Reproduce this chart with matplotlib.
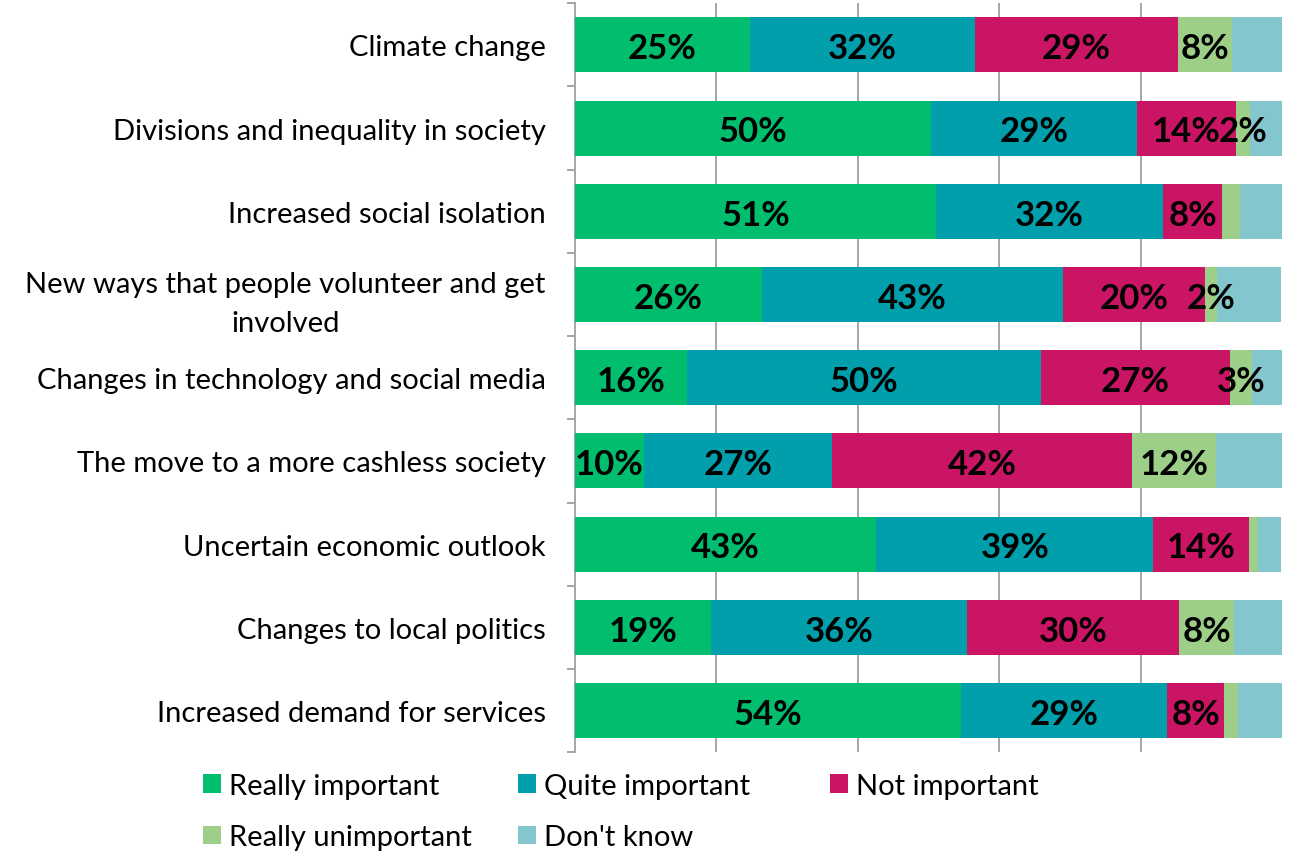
import matplotlib
matplotlib.use("Agg")
import matplotlib.pyplot as plt
import numpy as np

categories = [
    "Climate change",
    "Divisions and inequality in society",
    "Increased social isolation",
    "New ways that people volunteer and get\ninvolved",
    "Changes in technology and social media",
    "The move to a more cashless society",
    "Uncertain economic outlook",
    "Changes to local politics",
    "Increased demand for services",
]
series_names = ["Really important", "Quite important", "Not important",
                "Really unimportant", "Don't know"]

really_important = [24.7, 50.3, 51.1, 26.4, 15.9, 9.7, 42.6, 19.3, 54.6]
quite_important = [31.9, 29.2, 32.1, 42.6, 50.0, 26.7, 39.2, 36.1, 29.2]
not_important = [28.7, 14.0, 8.3, 20.1, 26.8, 42.4, 13.6, 30.1, 8.0]
really_unimportant = [7.7, 2.0, 2.5, 1.7, 3.1, 11.9, 1.2, 7.7, 2.0]
dont_know = [7.0, 4.5, 6.0, 9.1, 4.2, 9.3, 3.3, 6.8, 6.2]

# labels shown on the chart (None = no label)
labels_ri = ["25%", "50%", "51%", "26%", "16%", "10%", "43%", "19%", "54%"]
labels_qi = ["32%", "29%", "32%", "43%", "50%", "27%", "39%", "36%", "29%"]
labels_ni = ["29%", "14%", "8%", "20%", "27%", "42%", "14%", "30%", "8%"]
labels_ru = ["8%", "2%", None, "2%", "3%", "12%", None, "8%", None]
labels_dk = [None] * 9

colors = ["#00BE6E", "#009FAB", "#C91563", "#9DCF88", "#84C6CE"]

data = [really_important, quite_important, not_important, really_unimportant, dont_know]
labels = [labels_ri, labels_qi, labels_ni, labels_ru, labels_dk]

FONT = "Lato"
fig = plt.figure(figsize=(12.91, 8.53), dpi=100)
ax = fig.add_axes([0.4454, 0.117, 0.5476, 0.878])

y = np.arange(len(categories))
left = np.zeros(len(categories))
handles = []
for vals, lab, col, name in zip(data, labels, colors, series_names):
    vals = np.array(vals)
    h = ax.barh(y, vals, left=left, height=0.66, color=col, label=name, zorder=3)
    handles.append(h)
    for i, (v, l) in enumerate(zip(vals, lab)):
        if l is not None:
            ax.text(left[i] + v / 2, y[i] + 0.04, l, ha="center", va="center",
                    fontsize=25, fontweight="bold", color="black",
                    family=FONT, zorder=4)
    left += vals

ax.set_xlim(0, 100)
ax.set_ylim(8.5, -0.5)
ax.set_xticks([20, 40, 60, 80])
ax.xaxis.grid(True, color="#A6A6A6", linewidth=1.4, zorder=0)
ax.tick_params(axis="x", length=0, labelbottom=False)

ax.set_yticks(y)
ax.set_yticklabels(categories, fontsize=21, family=FONT)
for t in ax.get_yticklabels():
    t.set_multialignment("center")
    t.set_linespacing(1.6)
ax.tick_params(axis="y", which="major", length=0, pad=21)
ax.set_yticks(np.arange(-0.5, 9, 1), minor=True)
ax.tick_params(axis="y", which="minor", length=6, color="#A6A6A6", width=1.4)

for s in ["top", "right", "bottom"]:
    ax.spines[s].set_visible(False)
ax.spines["left"].set_color("#A6A6A6")
ax.spines["left"].set_linewidth(1.4)

# legend: three columns placed like the original (row-major order)
columns = [[0, 3], [1, 4], [2]]
col_x = [203 / 1291, 518 / 1291, 830 / 1291]
for idxs, cx in zip(columns, col_x):
    fig.legend([handles[i] for i in idxs], [series_names[i] for i in idxs],
               loc="upper left", bbox_to_anchor=(cx, 1 - 774 / 853),
               frameon=False, prop={"family": FONT, "size": 21},
               handlelength=0.6, handleheight=0.6, handletextpad=0.3,
               borderpad=0, borderaxespad=0, labelspacing=0.86)

fig.savefig("out.png", dpi=100)
